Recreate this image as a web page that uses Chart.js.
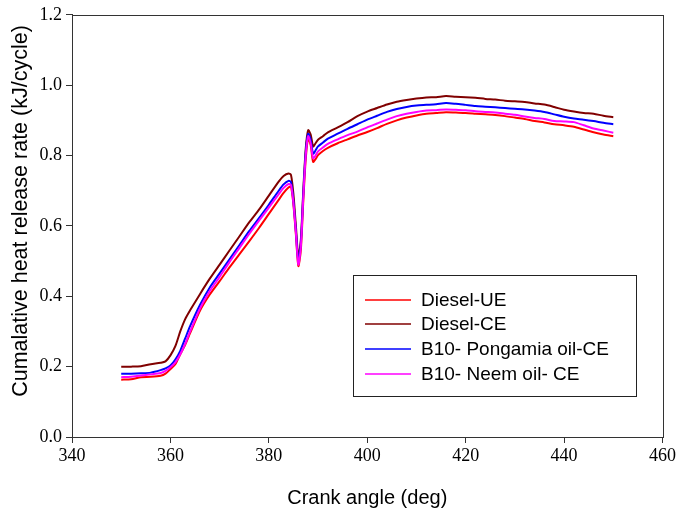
<!DOCTYPE html>
<html>
<head>
<meta charset="utf-8">
<script src="https://cdn.jsdelivr.net/npm/chart.js@4/dist/chart.umd.min.js"></script>
<style>
  html, body { margin: 0; padding: 0; background: #fff; }
  #wrap { width: 678px; height: 514px; }
</style>
</head>
<body>
<div id="wrap"><canvas id="myChart" width="678" height="514"></canvas></div>
<script>
const crankAngle = [350, 352, 354, 356, 358, 359, 360, 361, 362, 363, 364, 366, 368, 370, 372, 374, 376, 378, 380, 382, 383, 384, 384.5, 385, 385.5, 386, 386.5, 387, 387.5, 388, 388.5, 389, 389.5, 390, 391, 392, 394, 396, 398, 400, 402, 404, 406, 408, 410, 412, 414, 416, 418, 420, 422, 424, 426, 428, 430, 432, 434, 436, 438, 440, 442, 444, 446, 448, 450]

const dieselUE = [0.163, 0.164, 0.170, 0.171, 0.174, 0.180, 0.193, 0.207, 0.235, 0.262, 0.295, 0.359, 0.405, 0.443, 0.482, 0.519, 0.556, 0.594, 0.634, 0.674, 0.694, 0.709, 0.712, 0.660, 0.575, 0.486, 0.530, 0.670, 0.790, 0.849, 0.830, 0.782, 0.790, 0.801, 0.813, 0.822, 0.835, 0.846, 0.857, 0.867, 0.878, 0.890, 0.900, 0.908, 0.914, 0.919, 0.921, 0.923, 0.922, 0.921, 0.919, 0.917, 0.915, 0.912, 0.908, 0.904, 0.898, 0.894, 0.889, 0.886, 0.882, 0.874, 0.866, 0.860, 0.855]

const dieselCE = [0.200, 0.200, 0.201, 0.207, 0.211, 0.215, 0.232, 0.258, 0.300, 0.335, 0.360, 0.406, 0.450, 0.490, 0.530, 0.570, 0.610, 0.646, 0.686, 0.726, 0.742, 0.749, 0.745, 0.690, 0.600, 0.510, 0.560, 0.700, 0.820, 0.872, 0.860, 0.826, 0.835, 0.845, 0.855, 0.866, 0.880, 0.895, 0.912, 0.925, 0.935, 0.945, 0.953, 0.958, 0.962, 0.965, 0.966, 0.969, 0.967, 0.966, 0.964, 0.961, 0.959, 0.956, 0.954, 0.952, 0.948, 0.945, 0.938, 0.930, 0.925, 0.921, 0.919, 0.913, 0.909]

const pongamiaCE = [0.180, 0.180, 0.181, 0.183, 0.190, 0.195, 0.203, 0.220, 0.245, 0.280, 0.315, 0.375, 0.425, 0.465, 0.505, 0.545, 0.585, 0.622, 0.660, 0.700, 0.718, 0.728, 0.725, 0.670, 0.585, 0.500, 0.550, 0.690, 0.810, 0.862, 0.845, 0.805, 0.815, 0.826, 0.837, 0.848, 0.862, 0.876, 0.889, 0.902, 0.913, 0.924, 0.932, 0.938, 0.942, 0.944, 0.946, 0.949, 0.947, 0.944, 0.941, 0.939, 0.937, 0.935, 0.933, 0.931, 0.928, 0.924, 0.917, 0.910, 0.905, 0.902, 0.898, 0.893, 0.889]

const neemCE = [0.170, 0.171, 0.175, 0.178, 0.182, 0.188, 0.198, 0.212, 0.235, 0.265, 0.300, 0.365, 0.415, 0.455, 0.497, 0.537, 0.577, 0.615, 0.652, 0.690, 0.708, 0.719, 0.716, 0.665, 0.580, 0.490, 0.540, 0.680, 0.800, 0.855, 0.835, 0.792, 0.800, 0.812, 0.823, 0.833, 0.846, 0.858, 0.868, 0.880, 0.891, 0.902, 0.912, 0.919, 0.924, 0.928, 0.929, 0.931, 0.930, 0.929, 0.926, 0.924, 0.922, 0.919, 0.916, 0.911, 0.907, 0.904, 0.898, 0.897, 0.895, 0.886, 0.877, 0.871, 0.865]

const seriesLabels = ['Diesel-UE', 'Diesel-CE', 'B10- Pongamia oil-CE', 'B10- Neem oil- CE']
const seriesColors = ['#ff0000', '#800000', '#0000ff', '#ff00ff']
const seriesValues = [dieselUE, dieselCE, pongamiaCE, neemCE]
const drawOrder = [3, 2, 1, 0]

const xTicks = [340, 360, 380, 400, 420, 440, 460]
const yTicks = [0.0, 0.2, 0.4, 0.6, 0.8, 1.0, 1.2]
const yTitle = 'Cumalative heat release rate (kJ/cycle)'

const toPoints = vals => crankAngle.map((x, i) => ({ x: x, y: vals[i] }))

// setup block
const data = {
    datasets: seriesLabels.map((label, i) => ({
        label: label,
        data: toPoints(seriesValues[i]),
        borderColor: seriesColors[i],
        backgroundColor: seriesColors[i],
        borderWidth: 2,
        pointRadius: 0,
        tension: 0.25,
        fill: false,
        order: drawOrder[i]
    }))
}

// frame, y title and legend box drawn by hand
const framePlugin = {
    id: 'frame',
    afterDraw(chart) {
        const { ctx, chartArea } = chart
        ctx.save()
        ctx.strokeStyle = '#333'
        ctx.lineWidth = 1
        ctx.strokeRect(Math.round(chartArea.left) + 0.5, Math.round(chartArea.top) + 0.5,
            Math.round(chartArea.right - chartArea.left), Math.round(chartArea.bottom - chartArea.top))

        // y title (sits a bit above centre in the original)
        ctx.save()
        ctx.translate(21, 211)
        ctx.rotate(-Math.PI / 2)
        ctx.font = '21.5px "Liberation Sans", Arial, sans-serif'
        ctx.fillStyle = '#000'
        ctx.textAlign = 'center'
        ctx.textBaseline = 'middle'
        ctx.fillText(yTitle, 0, 0)
        ctx.restore()

        // legend
        const bx = 353.5, by = 275.5, bw = 283, bh = 121
        ctx.strokeStyle = '#222'
        ctx.lineWidth = 1
        ctx.strokeRect(bx, by, bw, bh)
        ctx.font = '19px "Liberation Sans", Arial, sans-serif'
        ctx.textBaseline = 'middle'
        ctx.textAlign = 'left'
        ctx.fillStyle = '#000'
        chart.data.datasets.forEach((ds, i) => {
            const y = 299.5 + i * 24.7
            ctx.beginPath()
            ctx.strokeStyle = ds.borderColor
            ctx.lineWidth = 1.5
            ctx.moveTo(365, Math.round(y))
            ctx.lineTo(411, Math.round(y))
            ctx.stroke()
            ctx.fillText(ds.label, 421, y + 1)
        })
        ctx.restore()
    }
}

// config block
const config = {
    type: 'line',
    data,
    options: {
        responsive: false,
        animation: false,
        layout: { padding: { top: 11, right: 13, left: 0, bottom: 0 } },
        scales: {
            x: {
                type: 'linear',
                min: 340,
                max: 460,
                afterBuildTicks: axis => { axis.ticks = xTicks.map(v => ({ value: v })) },
                afterFit: axis => { axis.height = 77 },
                ticks: {
                    color: '#000',
                    font: { family: '"Liberation Serif", "Times New Roman", serif', size: 18 },
                    padding: 2,
                    maxRotation: 0
                },
                grid: { display: true, drawOnChartArea: false, drawTicks: true, tickLength: 6, color: '#333' },
                border: { display: true, color: '#333' },
                title: {
                    display: true,
                    text: 'Crank angle (deg)',
                    color: '#000',
                    font: { family: '"Liberation Sans", Arial, sans-serif', size: 20 },
                    padding: { top: 0, bottom: 4 }
                }
            },
            y: {
                min: 0,
                max: 1.2,
                afterBuildTicks: axis => { axis.ticks = yTicks.map(v => ({ value: v })) },
                afterFit: axis => { axis.width = 72 },
                ticks: {
                    color: '#000',
                    font: { family: '"Liberation Serif", "Times New Roman", serif', size: 18 },
                    padding: 4,
                    callback: v => v.toFixed(1)
                },
                grid: { display: true, drawOnChartArea: false, drawTicks: true, tickLength: 6, color: '#333' },
                border: { display: true, color: '#333' },
                title: { display: false }
            }
        },
        plugins: {
            legend: { display: false },
            tooltip: { enabled: false }
        }
    },
    plugins: [framePlugin]
}

// render block
const myChart = new Chart(document.getElementById('myChart'), config)
</script>
</body>
</html>
